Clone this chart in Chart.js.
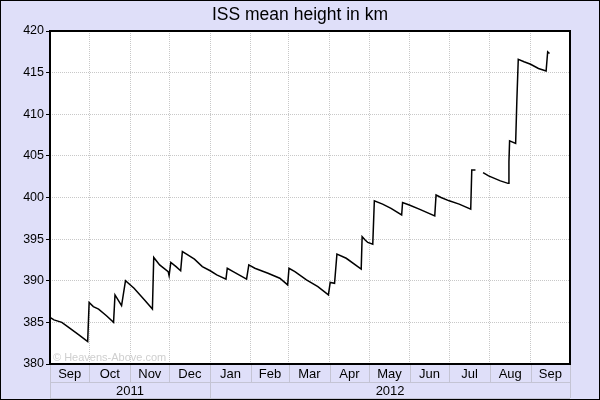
<!DOCTYPE html>
<html>
<head>
<meta charset="utf-8">
<title>ISS mean height</title>
<script src="https://cdn.jsdelivr.net/npm/chart.js@4"></script>
<style>
  html, body { margin: 0; padding: 0; background: #fff; }
  #wrap { width: 600px; height: 400px; }
</style>
</head>
<body>
<div id="wrap"><canvas id="issChart" width="600" height="400"></canvas></div>
<script>
// days counted from 1 Sep 2011
const days = [
  0, 3, 9, 15, 22, 27, 28.7, 29.8, 33, 37, 43, 48.4, 49.5, 54.5, 57.5, 64, 72, 78,
  79, 83.5, 90, 90.7, 92, 96, 99.5, 100.8, 104, 110, 116, 122, 127, 134,
  135, 139.5, 149.7, 151.4, 156, 166, 175, 181, 182, 186.5, 195.3, 204, 212,
  213.4, 216.7, 218.5, 225.6, 237, 237.7, 240, 242, 245.8, 247, 253.3, 259.7, 267.8,
  268.5, 273.6, 281.2, 293, 294, 297.8, 304, 311.6, 320.4, 321.2, 324,
  326,
  329.8, 334, 343, 348.8, 349.5, 350, 354.6, 355.5, 356.6, 361, 366, 372, 377.8, 379, 380.4
];
const heights = [
  385.6, 385.3, 385.0, 384.3, 383.5, 382.9, 382.7, 387.4, 386.9, 386.6, 385.8, 385.0, 388.3, 387.0, 390.0, 389.1, 387.7, 386.6,
  392.8, 391.9, 391.1, 390.6, 392.2, 391.7, 391.2, 393.5, 393.2, 392.6, 391.7, 391.2, 390.7, 390.2,
  391.5, 391.1, 390.2, 391.9, 391.5, 390.9, 390.3, 389.5, 391.5, 391.1, 390.1, 389.3, 388.3,
  389.8, 389.7, 393.2, 392.7, 391.4, 395.3, 394.9, 394.6, 394.4, 399.6, 399.2, 398.7, 397.9,
  399.4, 399.1, 398.6, 397.8, 400.3, 400.0, 399.6, 399.2, 398.6, 403.3, 403.3,
  null,
  403.0, 402.6, 402.0, 401.7, 404.3, 406.8, 406.5, 411.5, 416.6, 416.3, 416.0, 415.5, 415.2, 417.5, 417.3
];

// month cells on the time axis (day where each starts)
const monthStarts = [0, 30, 61, 91, 122, 153, 182, 213, 243, 274, 304, 335, 366, 396];
const monthLabels = ['Sep', 'Oct', 'Nov', 'Dec', 'Jan', 'Feb', 'Mar', 'Apr', 'May', 'Jun', 'Jul', 'Aug', 'Sep'];
const yearStarts = [0, 122, 396];
const yearLabels = ['2011', '2012'];
const titleText = 'ISS mean height in km';

const FONT = 'Arial, "Liberation Sans", Helvetica, sans-serif';
const LAVENDER = '#dfdff9';

// fond, titre, cadre, bande des mois et filigrane
const framePlugin = {
  id: 'frame',
  beforeDraw(chart) {
    const { ctx, chartArea: a } = chart;
    ctx.save();
    ctx.fillStyle = LAVENDER;
    ctx.fillRect(0, 0, chart.width, chart.height);
    ctx.fillStyle = '#fff';
    ctx.fillRect(a.left, a.top, a.right - a.left, a.bottom - a.top);
    ctx.fillStyle = '#000';
    ctx.font = '17.5px ' + FONT;
    ctx.textAlign = 'center';
    ctx.textBaseline = 'middle';
    ctx.fillText(titleText, chart.width / 2, 15);
    ctx.restore();
  },
  beforeDatasetsDraw(chart) {
    const { ctx, chartArea: a } = chart;
    ctx.save();
    ctx.fillStyle = '#cfcfcf';
    ctx.font = '11px ' + FONT;
    ctx.textAlign = 'left';
    ctx.textBaseline = 'bottom';
    ctx.fillText('\u00A9 Heavens-Above.com', a.left + 3, a.bottom - 1);
    ctx.restore();
  },
  afterDraw(chart) {
    const { ctx, chartArea: a } = chart;
    const x = chart.scales.x;
    const rowTop = a.bottom, rowMid = a.bottom + 18, rowBot = a.bottom + 34;
    ctx.save();

    // separators
    ctx.strokeStyle = '#c4c4d4';
    ctx.lineWidth = 1;
    ctx.beginPath();
    ctx.moveTo(a.left, rowMid + 0.5);
    ctx.lineTo(a.right, rowMid + 0.5);
    ctx.moveTo(a.left, rowBot + 0.5);
    ctx.lineTo(a.right, rowBot + 0.5);
    monthStarts.forEach(d => {
      const px = Math.round(x.getPixelForValue(d)) + 0.5;
      ctx.moveTo(px, rowTop);
      ctx.lineTo(px, rowMid);
    });
    yearStarts.forEach(d => {
      const px = Math.round(x.getPixelForValue(d)) + 0.5;
      ctx.moveTo(px, rowMid);
      ctx.lineTo(px, rowBot);
    });
    ctx.stroke();

    // labels
    ctx.fillStyle = '#000';
    ctx.font = '13px ' + FONT;
    ctx.textAlign = 'center';
    ctx.textBaseline = 'middle';
    monthLabels.forEach((m, i) => {
      const mid = (x.getPixelForValue(monthStarts[i]) + x.getPixelForValue(monthStarts[i + 1])) / 2;
      ctx.fillText(m, mid, (rowTop + rowMid) / 2 + 1);
    });
    yearLabels.forEach((y, i) => {
      const mid = (x.getPixelForValue(yearStarts[i]) + x.getPixelForValue(yearStarts[i + 1])) / 2;
      ctx.fillText(y, mid, (rowMid + rowBot) / 2 + 1);
    });

    // plot frame
    ctx.strokeStyle = '#000';
    ctx.lineWidth = 2;
    ctx.strokeRect(a.left, a.top, a.right - a.left, a.bottom - a.top);

    // outer border
    ctx.lineWidth = 1;
    ctx.strokeRect(0.5, 0.5, chart.width - 1, chart.height - 1);
    ctx.restore();
  }
};

const points = days.map((d, i) => ({ x: d, y: heights[i] }));

new Chart(document.getElementById('issChart'), {
  type: 'line',
  data: {
    datasets: [{
      data: points,
      borderColor: '#000',
      borderWidth: 1.5,
      pointRadius: 0,
      tension: 0,
      spanGaps: false
    }]
  },
  options: {
    responsive: false,
    animation: false,
    devicePixelRatio: 1,
    layout: { padding: { left: 0, right: 30, top: 31, bottom: 0 } },
    plugins: {
      legend: { display: false },
      tooltip: { enabled: false },
      title: { display: false }
    },
    scales: {
      x: {
        type: 'linear',
        min: 0,
        max: 396,
        afterBuildTicks: scale => {
          scale.ticks = monthStarts.slice(1, -1).map(v => ({ value: v }));
        },
        afterFit: scale => { scale.height = 36; },
        ticks: { display: false },
        grid: { color: '#c8c8c8', drawTicks: false, borderDash: [1, 1] },
        border: { display: false, dash: [1, 1] }
      },
      y: {
        min: 380,
        max: 420,
        afterFit: scale => { scale.width = 50; },
        ticks: { stepSize: 5, color: '#000', padding: 2, font: { family: FONT, size: 12.5 } },
        grid: { color: '#c8c8c8', tickColor: '#000', tickLength: 4, borderDash: [1, 1], tickBorderDash: [] },
        border: { display: false, dash: [1, 1] }
      }
    }
  },
  plugins: [framePlugin]
});
</script>
</body>
</html>
